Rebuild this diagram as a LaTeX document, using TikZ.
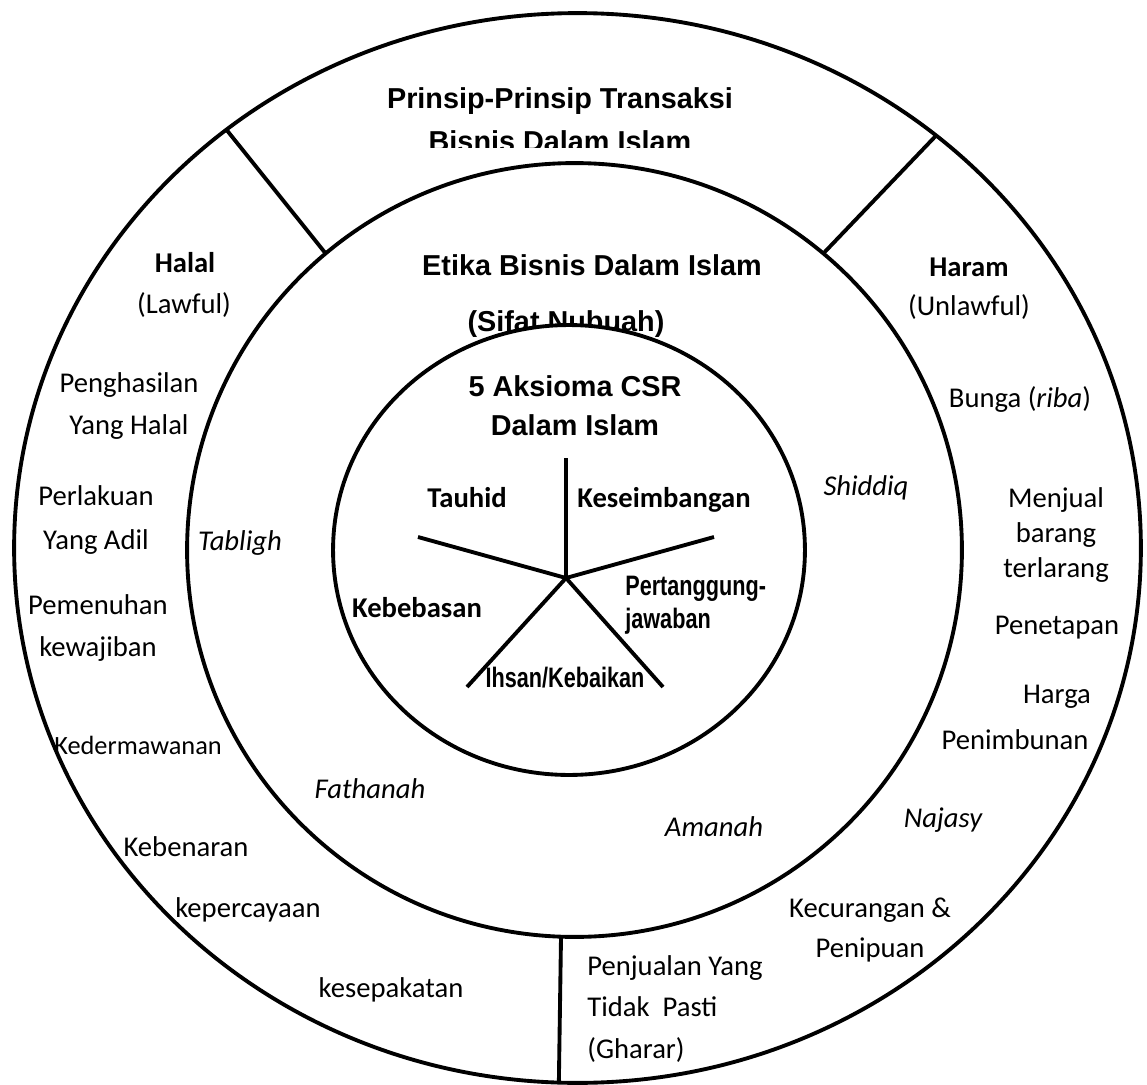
\documentclass[tikz,border=0pt]{standalone}
\usepackage{fontspec}
\setmainfont{Carlito}
\newfontfamily\arialfont{Liberation Sans}
\newfontfamily\arialnarrow[FakeStretch=0.77]{Liberation Sans}
\usetikzlibrary{positioning,shapes.geometric}
\tikzset{
  ring/.style={
    ellipse,
    draw=black,
    fill=white,
    line width=2.2pt,
    inner sep=0pt,
    outer sep=0pt
  },
  divider/.style={
    line width=2.2pt,
    draw=black
  },
  spoke/.style={
    line width=2.2pt,
    draw=black
  },
  heading/.style={
    font=\arialfont\bfseries\fontsize{16.4}{22}\selectfont,
    align=center,
    inner sep=0pt
  },
  item/.style={
    font=\fontsize{16.3}{24}\selectfont,
    align=center,
    inner sep=0pt
  },
  sifat/.style={
    font=\fontsize{16.3}{20}\selectfont\itshape,
    inner sep=0pt
  },
  axiom/.style={
    font=\fontsize{16.3}{20}\selectfont\bfseries,
    inner sep=0pt
  },
  narrowaxiom/.style={
    font=\arialnarrow\bfseries\fontsize{16}{19}\selectfont,
    align=left,
    inner sep=0pt
  }
}

\begin{document}
\begin{tikzpicture}[x=0.02cm, y=-0.02cm]
\useasboundingbox (0,0) rectangle (1147,1085);

% outer ring and its three sectors
\node[ring, minimum width=22.54cm, minimum height=21.4cm] (outer) at (577.5,548) {};
\node[ring, draw=none, fill=none, minimum width=15.5cm, minimum height=15.48cm] (middle) at (574.5,550) {};
\draw[divider] (middle.130.45) -- (outer.130.1);
\draw[divider] (middle.50.6) -- (outer.49.9);
\draw[divider] (middle.268.7) -- (outer.268.8);

\begin{scope}
  \clip (0,0) rectangle (1147,147);
  \node[heading, font=\arialfont\bfseries\fontsize{16.4}{24.4}\selectfont] (prinsip) at (560,120) {Prinsip-Prinsip Transaksi\\Bisnis Dalam Islam};
\end{scope}

% halal side
\node[item, font=\fontsize{16.3}{24}\selectfont\bfseries] (halal) at (185,263) {Halal};
\node[item] (lawful) at (184,305) {(Lawful)};
\node[item] (penghasilan) at (129,406) {Penghasilan\\Yang Halal};
\node[item, font=\fontsize{16.3}{25}\selectfont] (perlakuan) at (96,520) {Perlakuan\\Yang Adil};
\node[item] (pemenuhan) at (98,628) {Pemenuhan\\kewajiban};
\node[item, font=\fontsize{15}{20}\selectfont] (kedermawanan) at (138,745) {Kedermawanan};
\node[item] (kebenaran) at (186,847) {Kebenaran};
\node[item] (kepercayaan) at (248,910) {kepercayaan};
\node[item] (kesepakatan) at (391,990) {kesepakatan};

% haram side
\node[item, font=\fontsize{16.3}{24}\selectfont\bfseries] (haram) at (969,267) {Haram};
\node[item] (unlawful) at (969,307) {(Unlawful)};
\node[item] (bunga) at (1020,399) {Bunga (\textit{riba})};
\node[item, font=\fontsize{16.3}{20}\selectfont] (menjual) at (1056,535) {Menjual\\barang\\terlarang};
\node[item] (penetapan) at (1057,628) {Penetapan};
\node[item] (harga) at (1057,697) {Harga};
\node[item] (penimbunan) at (1015,740) {Penimbunan};
\node[item, font=\fontsize{16.3}{20}\selectfont\itshape] (najasy) at (943,820) {Najasy};
\node[item, font=\fontsize{16.3}{23}\selectfont] (kecurangan) at (870,930) {Kecurangan \&\\Penipuan};
\node[item, align=left, font=\fontsize{16.3}{23.5}\selectfont, anchor=west] (gharar) at (587,1009) {Penjualan Yang\\Tidak\ \ Pasti\\(Gharar)};

% middle ring: etika
\node[ring, fill=white, minimum width=15.5cm, minimum height=15.48cm] (middlering) at (574.5,550) {};
\node[heading] (etika) at (592,265) {Etika Bisnis Dalam Islam};
\node[heading, anchor=base] (nubuah) at (566,331) {(Sifat Nubuah)};
\node[sifat] (tabligh) at (240,543) {Tabligh};
\node[sifat] (shiddiq) at (866,488) {Shiddiq};
\node[sifat] (fathanah) at (370,789) {Fathanah};
\node[sifat] (amanah) at (714,827) {Amanah};

% inner ring: 5 aksioma
\node[ring, minimum width=9.44cm, minimum height=9cm] (inner) at (569,550) {};
\node[heading] (aksioma) at (575,406) {5 Aksioma CSR\\Dalam Islam};

\coordinate (hub) at (566,578);
\coordinate (upend) at (566,458);
\coordinate (leftend) at (418,537);
\coordinate (rightend) at (714,537);
\coordinate (lowleftend) at (467,687);
\coordinate (lowrightend) at (663,687);
\foreach \e in {upend,leftend,rightend,lowleftend,lowrightend}
  \draw[spoke] (hub) -- (\e);

\node[axiom, anchor=base] (tauhid) at (467,507) {Tauhid};
\node[axiom, anchor=base] (keseimbangan) at (664,507) {Keseimbangan};
\node[axiom] (kebebasan) at (417,608) {Kebebasan};
\node[narrowaxiom, anchor=west] (tanggung) at (625,605) {Pertanggung-\\jawaban};
\node[narrowaxiom] (ihsan) at (565,678) {Ihsan/Kebaikan};
\end{tikzpicture}
\end{document}
